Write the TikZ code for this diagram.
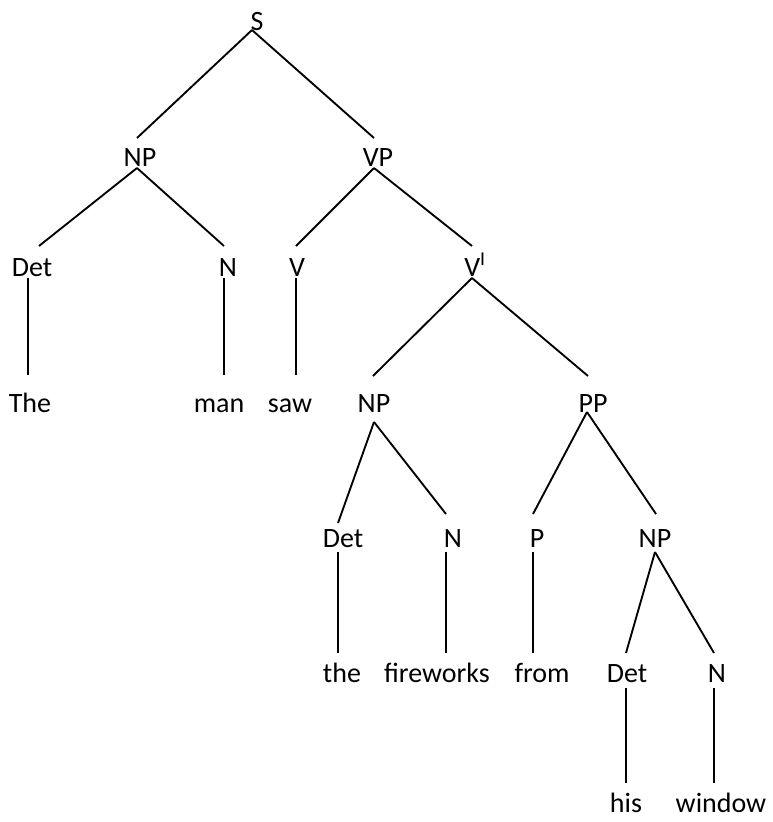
\documentclass[tikz,border=0pt]{standalone}
\usepackage{fontspec}
\setmainfont{Carlito}
\begin{document}
\begin{tikzpicture}[x=0.75pt,y=-0.75pt,
  lbl/.style={anchor=base,inner sep=0pt,font=\fontsize{21}{25}\selectfont},
  edge/.style={draw=black,line width=1.4pt}]
\useasboundingbox (0,0) rectangle (772,822);
% labels (baseline positions)
\node[lbl] (S) at (257,30) {S};
\node[lbl] (NP1) at (140,166) {NP};
\node[lbl] (VP) at (378,166) {VP};
\node[lbl] (Det1) at (32,276) {Det};
\node[lbl] (N1) at (228,276) {N};
\node[lbl] (V) at (297,276) {V};
\node[lbl] (Vb) at (475,276) {V\textsuperscript{I}};
\node[lbl] (The) at (30,412) {The};
\node[lbl] (man) at (219,412) {man};
\node[lbl] (saw) at (290,412) {saw};
\node[lbl] (NP2) at (374,412) {NP};
\node[lbl] (PP) at (593,412) {PP};
\node[lbl] (Det2) at (343,547) {Det};
\node[lbl] (N2) at (453,547) {N};
\node[lbl] (P) at (537,547) {P};
\node[lbl] (NP3) at (655,547) {NP};
\node[lbl] (the) at (342,682) {the};
\node[lbl] (fireworks) at (437,682) {fireworks};
\node[lbl] (from) at (542,682) {from};
\node[lbl] (Det3) at (627,682) {Det};
\node[lbl] (N3) at (717,682) {N};
\node[lbl] (his) at (626,812) {his};
\node[lbl] (window) at (721,812) {window};
% connector end points
\coordinate (S-b) at (252,30);
\coordinate (NP1-t) at (137,138);
\coordinate (VP-t) at (374,138);
\coordinate (NP1-b) at (137,168);
\coordinate (Det1-t) at (39,246);
\coordinate (N1-t) at (224,246);
\coordinate (VP-b) at (374,168);
\coordinate (V-t) at (296,246);
\coordinate (Vb-t) at (472,246);
\coordinate (Det1-b) at (28,278);
\coordinate (The-t) at (28,375);
\coordinate (N1-b) at (224,278);
\coordinate (man-t) at (224,375);
\coordinate (V-b) at (296,278);
\coordinate (saw-t) at (296,375);
\coordinate (Vb-b) at (472,278);
\coordinate (NP2-t) at (373,376);
\coordinate (PP-t) at (588,376);
\coordinate (NP2-b) at (374,422);
\coordinate (Det2-t) at (338,523);
\coordinate (N2-t) at (446,514);
\coordinate (PP-b) at (587,412);
\coordinate (P-t) at (533,514);
\coordinate (NP3-t) at (656,514);
\coordinate (Det2-b) at (338,552);
\coordinate (the-t) at (338,653);
\coordinate (N2-b) at (446,552);
\coordinate (fireworks-t) at (446,653);
\coordinate (P-b) at (533,552);
\coordinate (from-t) at (533,653);
\coordinate (NP3-b) at (655,552);
\coordinate (Det3-t) at (626,653);
\coordinate (N3-t) at (714,653);
\coordinate (Det3-b) at (626,688);
\coordinate (his-t) at (626,783);
\coordinate (N3-b) at (714,688);
\coordinate (window-t) at (714,783);
% connectors
\draw[edge] (S-b) -- (NP1-t);
\draw[edge] (S-b) -- (VP-t);
\draw[edge] (NP1-b) -- (Det1-t);
\draw[edge] (NP1-b) -- (N1-t);
\draw[edge] (VP-b) -- (V-t);
\draw[edge] (VP-b) -- (Vb-t);
\draw[edge] (Det1-b) -- (The-t);
\draw[edge] (N1-b) -- (man-t);
\draw[edge] (V-b) -- (saw-t);
\draw[edge] (Vb-b) -- (NP2-t);
\draw[edge] (Vb-b) -- (PP-t);
\draw[edge] (NP2-b) -- (Det2-t);
\draw[edge] (NP2-b) -- (N2-t);
\draw[edge] (PP-b) -- (P-t);
\draw[edge] (PP-b) -- (NP3-t);
\draw[edge] (Det2-b) -- (the-t);
\draw[edge] (N2-b) -- (fireworks-t);
\draw[edge] (P-b) -- (from-t);
\draw[edge] (NP3-b) -- (Det3-t);
\draw[edge] (NP3-b) -- (N3-t);
\draw[edge] (Det3-b) -- (his-t);
\draw[edge] (N3-b) -- (window-t);
\end{tikzpicture}
\end{document}
